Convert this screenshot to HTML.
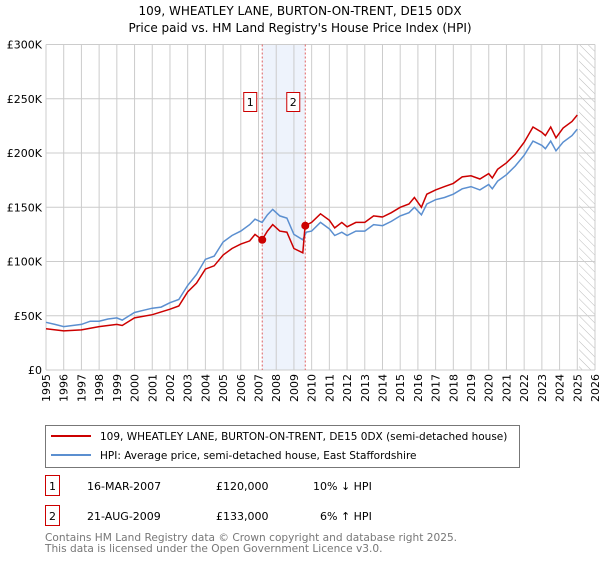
<!DOCTYPE html>
<html><head><meta charset="utf-8"><style>
body{margin:0;background:#fff;font-family:"DejaVu Sans","Liberation Sans",sans-serif;}
</style></head><body>
<svg width="600" height="560" xmlns="http://www.w3.org/2000/svg" font-family="DejaVu Sans, Liberation Sans, sans-serif">
<defs><pattern id="hatch" width="6" height="6" patternUnits="userSpaceOnUse" patternTransform="rotate(-45)"><line x1="0" y1="0" x2="0" y2="6" stroke="#bbb" stroke-width="1"/></pattern></defs>
<text x="300" y="15" text-anchor="middle" font-size="12">109, WHEATLEY LANE, BURTON-ON-TRENT, DE15 0DX</text>
<text x="300" y="32" text-anchor="middle" font-size="12">Price paid vs. HM Land Registry's House Price Index (HPI)</text>
<g id="plot"></g>
<g>
<rect x="45.5" y="425.5" width="474" height="42" fill="#fff" stroke="#777"/>
<line x1="51" y1="436" x2="91" y2="436" stroke="#cc0000" stroke-width="2"/>
<text x="100" y="440" font-size="10.5">109, WHEATLEY LANE, BURTON-ON-TRENT, DE15 0DX (semi-detached house)</text>
<line x1="51" y1="455" x2="91" y2="455" stroke="#5b8fd0" stroke-width="2"/>
<text x="100" y="459" font-size="10.5">HPI: Average price, semi-detached house, East Staffordshire</text>
</g>
<g font-size="11">
<rect x="45.5" y="475.5" width="14" height="20" fill="#fff" stroke="#cc0000"/><text x="52.5" y="490" text-anchor="middle">1</text>
<text x="87" y="490">16-MAR-2007</text><text x="216" y="490">£120,000</text><text x="313" y="490">10% ↓ HPI</text>
<rect x="45.5" y="505.5" width="14" height="20" fill="#fff" stroke="#cc0000"/><text x="52.5" y="520" text-anchor="middle">2</text>
<text x="87" y="520">21-AUG-2009</text><text x="216" y="520">£133,000</text><text x="320" y="520">6% ↑ HPI</text>
</g>
<text x="45" y="541" font-size="10.6" fill="#777">Contains HM Land Registry data © Crown copyright and database right 2025.</text>
<text x="45" y="552" font-size="10.6" fill="#777">This data is licensed under the Open Government Licence v3.0.</text>
</svg>
<script>
const hpiYears=[1995,1995.5,1996,1997,1997.5,1998,1998.5,1999,1999.3,2000,2000.5,2001,2001.5,2002,2002.5,2003,2003.5,2004,2004.5,2005,2005.5,2006,2006.5,2006.8,2007.2,2007.5,2007.8,2008.2,2008.6,2009,2009.5,2009.7,2010,2010.5,2011,2011.3,2011.7,2012,2012.5,2013,2013.5,2014,2014.5,2015,2015.5,2015.8,2016.2,2016.5,2017,2017.5,2018,2018.5,2019,2019.5,2020,2020.2,2020.5,2021,2021.5,2022,2022.5,2023,2023.2,2023.5,2023.8,2024.2,2024.7,2025];
const hpiValues=[44,42,40,42,45,45,47,48,46,53,55,57,58,62,65,78,88,102,105,118,124,128,134,139,136,143,148,142,140,125,120,127,128,136,130,124,127,124,128,128,134,133,137,142,145,150,143,153,157,159,162,167,169,166,171,167,174,180,188,198,211,207,204,211,202,210,216,222];
const propYears=[1995,1996,1997,1998,1999,1999.3,2000,2001,2002,2002.5,2003,2003.5,2004,2004.5,2005,2005.5,2006,2006.5,2006.8,2007.2,2007.5,2007.8,2008.2,2008.6,2009,2009.5,2009.63,2010,2010.5,2011,2011.3,2011.7,2012,2012.5,2013,2013.5,2014,2014.5,2015,2015.5,2015.8,2016.2,2016.5,2017,2017.5,2018,2018.5,2019,2019.5,2020,2020.2,2020.5,2021,2021.5,2022,2022.5,2023,2023.2,2023.5,2023.8,2024.2,2024.7,2025];
const propValues=[38,36,37,40,42,41,48,51,56,59,72,80,93,96,106,112,116,119,125,120,128,134,128,127,112,108,133,136,144,138,131,136,132,136,136,142,141,145,150,153,159,150,162,166,169,172,178,179,176,181,177,185,191,199,210,224,219,216,224,214,223,229,235];
const saleYears=[2007.21,2009.64];
const saleValues=[120,133];
const saleLabels=["1","2"];
const yTicks=[0,50,100,150,200,250,300];
const yTickLabels=["£0","£50K","£100K","£150K","£200K","£250K","£300K"];
const xTicks=[1995,1996,1997,1998,1999,2000,2001,2002,2003,2004,2005,2006,2007,2008,2009,2010,2011,2012,2013,2014,2015,2016,2017,2018,2019,2020,2021,2022,2023,2024,2025,2026];

const L=46,R=595,T=44.5,B=370;
const X=y=>L+(y-1995)/(2026-1995)*(R-L);
const Y=v=>B-v/300*(B-T);
const NS="http://www.w3.org/2000/svg";
const g=document.getElementById('plot');
function mk(t,a,p){const e=document.createElementNS(NS,t);for(const k in a)e.setAttribute(k,a[k]);(p||g).appendChild(e);return e;}
let e=mk('rect',{x:X(saleYears[0]),y:T,width:X(saleYears[1])-X(saleYears[0]),height:B-T,fill:'#eef3fc'});


e=mk('rect',{x:X(2025.1),y:T,width:R-X(2025.1),height:B-T,fill:'url(#hatch)'});


yTicks.forEach((v,i)=>{
 let l=mk('line',{x1:L,x2:R,y1:Y(v),y2:Y(v),stroke:'#ccc'});
 
 
 let t=mk('text',{x:L-4,y:Y(v)+4,'text-anchor':'end','font-size':'11'});t.textContent=yTickLabels[i];
 
 
});
xTicks.forEach(y=>{
 let l=mk('line',{x1:X(y),x2:X(y),y1:T,y2:B,stroke:'#ccc'});
 
 
 let t=mk('text',{x:0,y:0,'text-anchor':'end','font-size':'11',transform:`translate(${X(y)+4},${B+4}) rotate(-90)`});t.textContent=y;
 
 
});
saleYears.forEach(y=>{
 let l=mk('line',{x1:X(y),x2:X(y),y1:T,y2:B,stroke:'#e06060','stroke-dasharray':'2,2'});
 
 
});
function path(xs,vs,c,name){
 let d=xs.map((y,i)=>(i?'L':'M')+X(y).toFixed(1)+','+Y(vs[i]).toFixed(1)).join('');
 let p=mk('path',{d:d,fill:'none',stroke:c,'stroke-width':1.5});
 
 
}
path(hpiYears,hpiValues,'#5b8fd0','hpi-line');
path(propYears,propValues,'#cc0000','property-line');
saleYears.forEach((y,i)=>{
 let c=mk('circle',{cx:X(y),cy:Y(saleValues[i]),r:4,fill:'#cc0000'});
 
 
 let bx=mk('rect',{x:X(y)-18.5,y:92.5,width:13,height:19,fill:'#fff',stroke:'#cc0000'});
 
 
 let t=mk('text',{x:X(y)-12,y:106,'text-anchor':'middle','font-size':'11'});t.textContent=saleLabels[i];
 
 
});
</script>
</body></html>
